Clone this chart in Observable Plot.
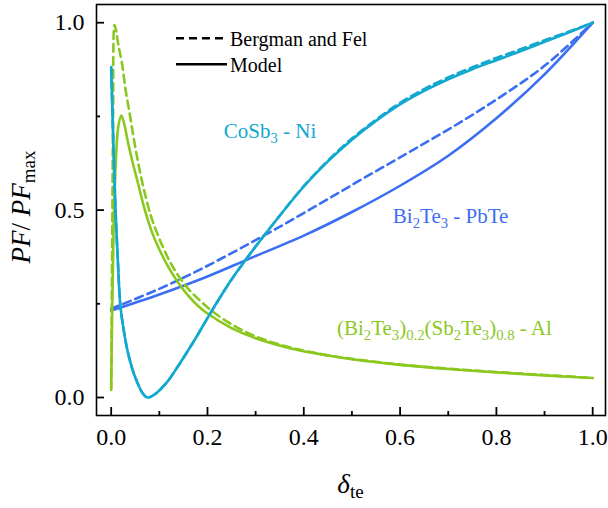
<!DOCTYPE html>
<html><head><meta charset="utf-8">
<script src="https://cdn.jsdelivr.net/npm/d3@7"></script>
<script src="https://cdn.jsdelivr.net/npm/@observablehq/plot@0.6"></script>
<style>
body{margin:0;background:#fff;}
#chart{position:relative;width:608px;height:508px;}
</style></head><body><div id="chart"></div>
<script>
// ---- tick values ----
const xTicks = [0, 0.2, 0.4, 0.6, 0.8, 1.0];
const xMinorTicks = [0.1, 0.3, 0.5, 0.7, 0.9];
const yTicks = [0, 0.5, 1.0];
const yMinorTicks = [0.25, 0.75];

// ---- CoSb3 - Ni ----
const cosbX = [0,0.004,0.009,0.014,0.019,0.026,0.033,0.043,0.054,0.065,0.075,0.09,0.116,0.137,0.158,0.18,0.2,0.225,0.25,0.282,0.3,0.35,0.4,0.45,0.5,0.55,0.6,0.65,0.7,0.75,0.8,0.85,0.9,0.95,1.0];
const cosbModel = [0.882,0.7,0.5,0.36,0.246,0.18,0.13,0.08,0.041,0.012,0.0,0.008,0.041,0.08,0.122,0.168,0.212,0.265,0.315,0.372,0.403,0.485,0.563,0.63,0.688,0.738,0.782,0.818,0.849,0.876,0.9,0.924,0.949,0.974,1.0];
const cosbBF    = [0.88,0.7,0.5,0.36,0.246,0.18,0.13,0.08,0.041,0.012,0.0,0.008,0.041,0.08,0.122,0.168,0.212,0.265,0.315,0.372,0.403,0.485,0.564,0.632,0.691,0.741,0.786,0.823,0.854,0.881,0.906,0.929,0.953,0.976,1.0];

// ---- Bi2Te3 - PbTe ----
const bitModelX = [0,0.1,0.2,0.286,0.4,0.5,0.6,0.7,0.8,0.9,1.0];
const bitModel  = [0.232,0.275,0.323,0.37,0.432,0.495,0.565,0.645,0.745,0.862,1.0];
const bitBFX = [0,0.1,0.1855,0.3,0.4,0.5,0.6,0.7,0.8,0.9,1.0];
const bitBF  = [0.237,0.29,0.342,0.42,0.492,0.567,0.641,0.715,0.795,0.885,1.0];

// ---- (Bi2Te3)0.2(Sb2Te3)0.8 - Al ----
const bstModelX = [0,0.005,0.01,0.015,0.021,0.027,0.035,0.045,0.055,0.07,0.085,0.1,0.12,0.14,0.16,0.18,0.2,0.25,0.3,0.373,0.45,0.5,0.6,0.7,0.8,0.9,1.0];
const bstModel  = [0.024,0.45,0.64,0.725,0.752,0.73,0.68,0.625,0.575,0.5,0.44,0.395,0.345,0.305,0.272,0.245,0.224,0.185,0.158,0.131,0.112,0.102,0.087,0.076,0.067,0.059,0.052];
const bstBFX = [0,0.002,0.004,0.0069,0.01,0.015,0.023,0.03,0.039,0.047,0.057,0.068,0.082,0.095,0.109,0.123,0.137,0.16,0.185,0.21,0.25,0.3,0.373,0.45,0.5,0.6,0.7,0.8,0.9,1.0];
const bstBF  = [0.02,0.4,0.75,0.994,0.98,0.94,0.887,0.82,0.753,0.69,0.62,0.555,0.486,0.44,0.397,0.36,0.33,0.29,0.258,0.23,0.195,0.163,0.133,0.113,0.103,0.088,0.077,0.068,0.06,0.052];

// ---- labels ----
const seriesNames = ["CoSb_{3} - Ni", "Bi_{2}Te_{3} - PbTe", "(Bi_{2}Te_{3})_{0.2}(Sb_{2}Te_{3})_{0.8} - Al"];
const seriesLabelX = [0.235, 0.586, 0.47];
const seriesLabelY = [0.692, 0.465, 0.166];
const legendLabels = ["Bergman and Fel", "Model"];

const colors = {cyan: "#13a8cf", blue: "#3b6ef2", green: "#8bc81f"};
const seriesColors = [colors.cyan, colors.blue, colors.green];

function rows(xs, ys) { return xs.map((x, i) => ({x, y: ys[i]})); }

const FONT = "'Liberation Serif', 'Times New Roman', Times, serif";
const dash = "8,5";
const sw = 2.6;
const curve = "catmull-rom";

const plot = Plot.plot({
  width: 608, height: 508,
  marginLeft: 96, marginRight: 3, marginTop: 4, marginBottom: 93,
  style: {fontFamily: FONT, fontSize: "24px", color: "#000", background: "#fff", overflow: "visible"},
  x: {domain: [-0.0305, 1.0266]},
  y: {domain: [-0.048, 1.0486]},
  marks: [
    Plot.line(rows(bitBFX, bitBF), {x: "x", y: "y", stroke: colors.blue, strokeWidth: sw, strokeDasharray: dash, curve}),
    Plot.line(rows(bitModelX, bitModel), {x: "x", y: "y", stroke: colors.blue, strokeWidth: sw, curve}),
    Plot.line(rows(bstBFX, bstBF), {x: "x", y: "y", stroke: colors.green, strokeWidth: sw, strokeDasharray: dash, curve}),
    Plot.line(rows(bstModelX, bstModel), {x: "x", y: "y", stroke: colors.green, strokeWidth: sw, curve}),
    Plot.line(rows(cosbX, cosbBF), {x: "x", y: "y", stroke: colors.cyan, strokeWidth: sw, strokeDasharray: dash, curve}),
    Plot.line(rows(cosbX, cosbModel), {x: "x", y: "y", stroke: colors.cyan, strokeWidth: sw, curve}),
    Plot.frame({stroke: "#000", strokeWidth: 1.6}),
    Plot.axisX(xTicks, {tickSize: -8, tickPadding: 20, strokeWidth: 1.8, tickFormat: d3.format(".1f"), label: null, fontSize: 24}),
    Plot.axisX(xMinorTicks, {tickSize: -4, tickPadding: 20, strokeWidth: 1.8, tickFormat: () => "", label: null}),
    Plot.axisY(yTicks, {tickSize: -8, tickPadding: 20, strokeWidth: 1.8, tickFormat: d3.format(".1f"), label: null, fontSize: 24}),
    Plot.axisY(yMinorTicks, {tickSize: -4, tickPadding: 20, strokeWidth: 1.8, tickFormat: () => "", label: null})
  ]
});
document.getElementById("chart").appendChild(plot);

const svg = d3.select(plot);
const sx = plot.scale("x"), sy = plot.scale("y");

// rich text with subscripts: "_{...}"
function rich(textSel, markup, size, subRatio = 0.7, shift = 5) {
  const re = /_\{([^}]*)\}/g;
  let last = 0, m, down = false;
  const add = (t, sub) => {
    if (!t) return;
    const ts = textSel.append("tspan").text(t);
    if (sub && !down) { ts.attr("dy", shift); down = true; }
    else if (!sub && down) { ts.attr("dy", -shift); down = false; }
    if (sub) ts.attr("font-size", size * subRatio);
  };
  while ((m = re.exec(markup))) {
    add(markup.slice(last, m.index), false);
    add(m[1], true);
    last = re.lastIndex;
  }
  add(markup.slice(last), false);
}

// series annotations
seriesNames.forEach((name, i) => {
  const t = svg.append("text")
    .attr("x", sx.apply(seriesLabelX[i]))
    .attr("y", sy.apply(seriesLabelY[i]))
    .attr("text-anchor", "start")
    .attr("fill", seriesColors[i])
    .attr("font-family", FONT)
    .attr("font-size", 21);
  rich(t, name, 21);
});

// legend
const lg = svg.append("g").attr("font-family", FONT).attr("font-size", 20).attr("text-anchor", "start");
[[38.3, dash, 45.5], [64.3, null, 71.5]].forEach(([yy, da, base], i) => {
  lg.append("line").attr("x1", 176).attr("x2", 227).attr("y1", yy).attr("y2", yy)
    .attr("stroke", "#000").attr("stroke-width", 2.6).attr("stroke-dasharray", da);
  lg.append("text").attr("x", 230).attr("y", base).attr("fill", "#000").text(legendLabels[i]);
});

// axis titles
const xt = svg.append("text").attr("x", 350.5).attr("y", 493).attr("text-anchor", "middle")
  .attr("font-family", FONT).attr("font-size", 27).attr("fill", "#000");
xt.append("tspan").attr("font-style", "italic").text("δ");
xt.append("tspan").attr("font-size", 19).attr("dy", 5).text("te");

const yt = svg.append("text").attr("transform", "translate(30,207) rotate(-90)").attr("text-anchor", "middle")
  .attr("font-family", FONT).attr("font-size", 27).attr("fill", "#000");
yt.append("tspan").attr("font-style", "italic").text("PF");
yt.append("tspan").text("/ ");
yt.append("tspan").attr("font-style", "italic").text("PF");
yt.append("tspan").attr("font-size", 19).attr("dy", 5).text("max");
</script></body></html>
